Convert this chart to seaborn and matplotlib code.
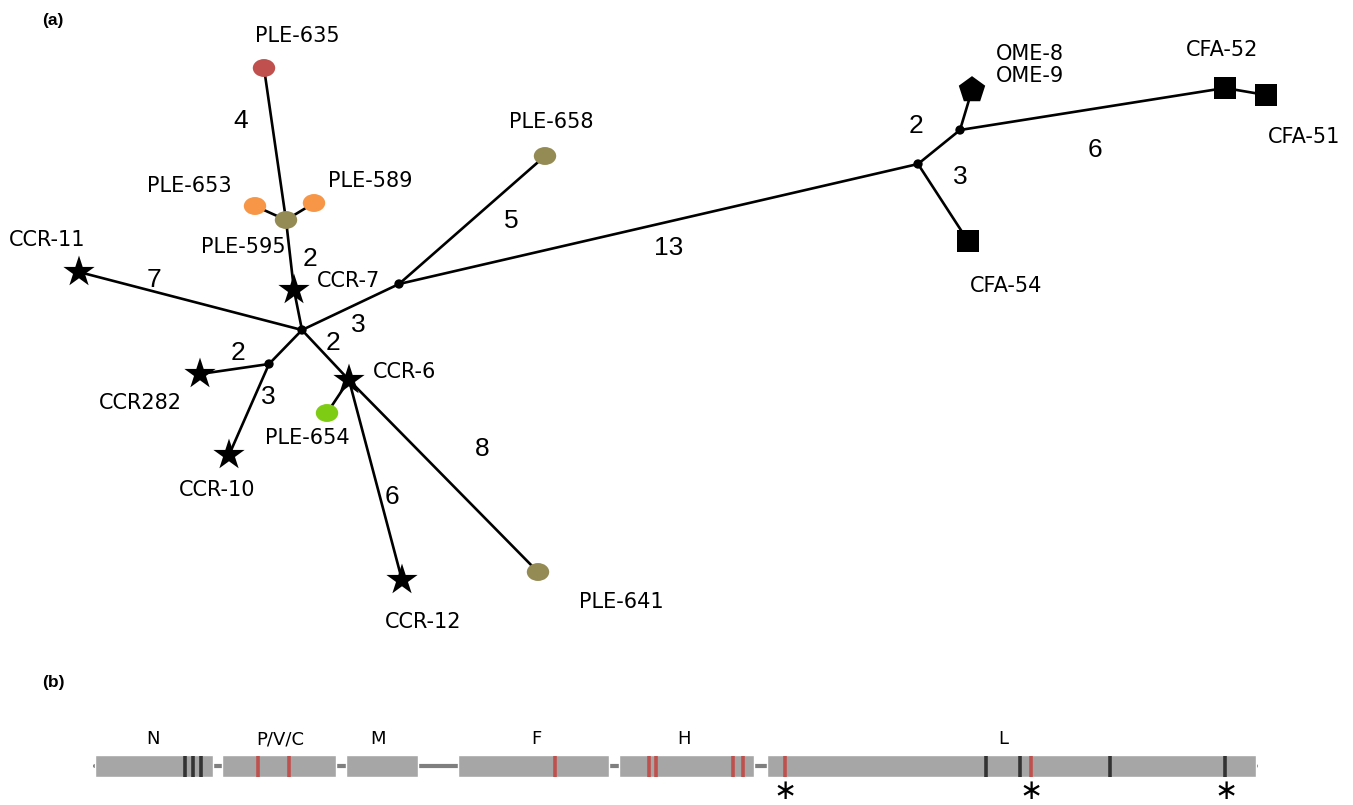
import matplotlib
matplotlib.use("Agg")
import matplotlib.pyplot as plt
import seaborn as sns
import pandas as pd
from matplotlib.path import Path
from matplotlib.transforms import Affine2D

sns.set_theme(style="white")
plt.rcParams['font.family'] = ['DejaVu Sans']
plt.rcParams['text.color'] = 'black'

# ---------------- Panel (a): network data ----------------
node_names = ["PLE-635", "PLE-595", "PLE-653", "PLE-589", "CCR-7", "H1", "CCR-11", "H2",
              "CCR282", "CCR-10", "CCR-6", "PLE-654", "CCR-12", "PLE-641", "H3", "PLE-658",
              "H4", "H5", "OME", "CFA-52", "CFA-51", "CFA-54"]
node_x = [264, 286, 255, 314, 294, 302, 79, 269, 200, 229, 349, 327, 402, 538, 399, 545,
          918, 960, 972, 1225, 1266, 968]
node_y = [68, 220, 206, 203, 290, 330, 272, 364, 374, 455, 380, 413, 580, 572, 284, 156,
          164, 130, 90, 88, 95, 241]
node_kind = ["red", "olive", "orange", "orange", "star", "hub", "star", "hub",
             "star", "star", "star", "green", "star", "olive", "hub", "olive",
             "hub", "hub", "pent", "square", "square", "square"]

edge_from = ["PLE-635", "PLE-595", "PLE-595", "PLE-595", "CCR-7", "H1", "H1", "H1", "H2", "H2",
             "H1", "CCR-6", "CCR-6", "CCR-6", "H3", "H3", "H4", "H4", "H5", "H5", "CFA-52"]
edge_to = ["PLE-595", "PLE-653", "PLE-589", "CCR-7", "H1", "CCR-11", "H3", "H2", "CCR282", "CCR-10",
           "CCR-6", "PLE-654", "CCR-12", "PLE-641", "PLE-658", "H4", "H5", "CFA-54", "OME", "CFA-52",
           "CFA-51"]

edge_label_text = ["4", "2", "7", "3", "2", "3", "2", "6", "8", "5", "13", "2", "3", "6"]
edge_label_x = [241, 310, 154, 358, 238, 268, 333, 392, 482, 511, 669, 916, 960, 1095]
edge_label_y = [121, 259, 280, 325, 353, 397, 343, 497, 449, 221, 248, 126, 177, 150]

node_label_text = ["PLE-635", "PLE-658", "PLE-653", "PLE-589", "PLE-595", "CCR-11", "CCR-7",
                   "CCR-6", "CCR282", "PLE-654", "CCR-10", "CCR-12", "PLE-641", "OME-8\nOME-9",
                   "CFA-52", "CFA-51", "CFA-54"]
node_label_x = [297, 551, 189, 370, 243, 47, 348, 405, 140, 307, 217, 423, 621, 1030, 1222, 1304, 1006]
node_label_y = [36, 122, 186, 181, 247, 240, 281, 372, 403, 438, 490, 622, 602, 65, 50, 137, 286]

# ---------------- Panel (b): genome data ----------------
gene_names = ["N", "P/V/C", "M", "F", "H", "L"]
gene_start = [95, 222, 346, 458, 619, 767]
gene_end = [213, 336, 418, 609, 754, 1256]
gene_label_x = [153, 280, 378, 536, 684, 1003]
black_sites = [185, 193, 201, 986, 1020, 1110, 1225]
red_sites = [258, 289, 555, 649, 656, 733, 743, 785, 1031]
star_sites = [785, 1031, 1226]

W, H = 1353, 805
fig = plt.figure(figsize=(W / 100, H / 100), dpi=100)
ax = fig.add_axes([0, 0, 1, 1])
ax.set_xlim(0, W)
ax.set_ylim(H, 0)
ax.axis("off")

pos = dict(zip(node_names, zip(node_x, node_y)))
for a, b in zip(edge_from, edge_to):
    ax.plot([pos[a][0], pos[b][0]], [pos[a][1], pos[b][1]], color="black", lw=1.9, zorder=1,
            solid_capstyle="round")

df = pd.DataFrame({"name": node_names, "x": node_x, "y": node_y, "kind": node_kind})
ellipse = Path.unit_circle().transformed(Affine2D().scale(1.25, 1.0))
styles = {
    "red": dict(marker=ellipse, s=260, color="#c0504d"),
    "olive": dict(marker=ellipse, s=260, color="#948a54"),
    "orange": dict(marker=ellipse, s=260, color="#f79646"),
    "green": dict(marker=ellipse, s=260, color="#7fcc14"),
    "star": dict(marker="*", s=560, color="black"),
    "hub": dict(marker="o", s=45, color="black"),
    "pent": dict(marker="p", s=400, color="black"),
    "square": dict(marker="s", s=270, color="black"),
}
for kind, st in styles.items():
    sub = df[df["kind"] == kind]
    sns.scatterplot(data=sub, x="x", y="y", ax=ax, marker=st["marker"], s=st["s"],
                    color=st["color"], edgecolor="none", linewidth=0, zorder=3, legend=False)

for t, x, y in zip(edge_label_text, edge_label_x, edge_label_y):
    ax.text(x, y, t, fontsize=19, ha="center", va="center", color="black", zorder=4,
            family=["Liberation Sans", "DejaVu Sans"])
for t, x, y in zip(node_label_text, node_label_x, node_label_y):
    ax.text(x, y, t, fontsize=15, ha="center", va="center", color="black", zorder=4,
            linespacing=1.15)

ax.text(53, 20, "(a)", fontsize=12.5, fontweight="bold", ha="center", va="center", color="black",
        family=["Liberation Sans", "DejaVu Sans"])
ax.text(53, 682, "(b)", fontsize=12.5, fontweight="bold", ha="center", va="center", color="black",
        family=["Liberation Sans", "DejaVu Sans"])

# genome
ax.plot([gene_start[0], gene_end[-1]], [766, 766], color="#7f7f7f", lw=3, zorder=1)
for s, e in zip(gene_start, gene_end):
    ax.barh(766, e - s, left=s, height=22, color="#a6a6a6", zorder=2)
ax.vlines(black_sites, 756, 777, color="#333333", lw=2.6, zorder=3)
ax.vlines(red_sites, 756, 777, color="#c0504d", lw=2.6, zorder=3)
for n, x in zip(gene_names, gene_label_x):
    ax.text(x, 739, n, fontsize=13, ha="center", va="center", color="black")
for x in star_sites:
    ax.text(x, 805, "\u2217", fontsize=20, ha="center", va="bottom", color="black")

fig.savefig("out.png", dpi=100)
